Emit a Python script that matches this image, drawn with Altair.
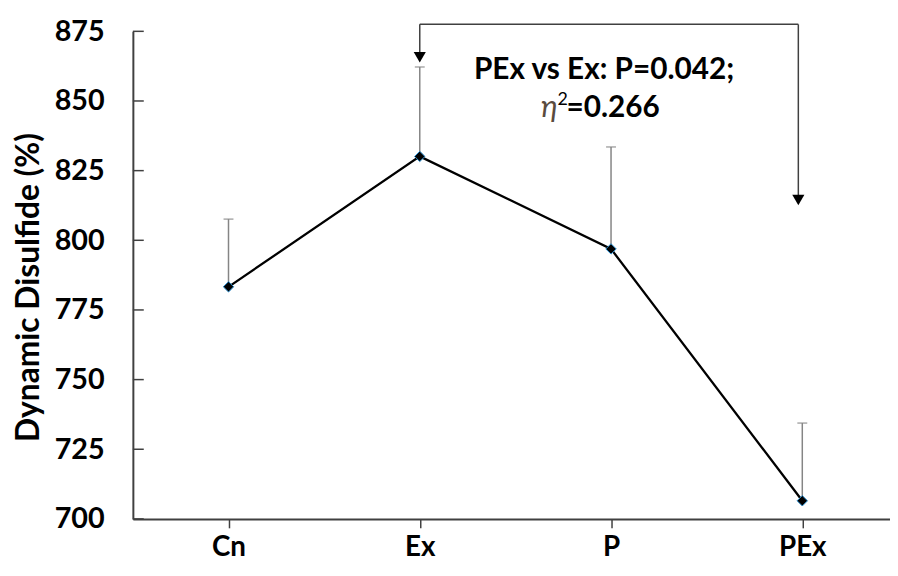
import json
import altair as alt
import pandas as pd

groups = ["Cn", "Ex", "P", "PEx"]
means = [783.3, 830.1, 796.9, 706.5]
err_up = [24.3, 32.1, 36.6, 27.9]
y_ticks = [700, 725, 750, 775, 800, 825, 850, 875]

bracket_y = 877.5
arrow_left_y = 865.7
arrow_right_y = 814.5
line1 = "PEx vs Ex: P=0.042;"
line2_eta = "η"
line2_sup = "2"
line2_rest = "=0.266"

FONT = "Lato"
idx = {g: i for i, g in enumerate(groups)}

df = pd.DataFrame({"group": groups, "i": [idx[g] for g in groups], "mean": means,
                   "top": [m + e for m, e in zip(means, err_up)]})

xscale = alt.Scale(domain=[-0.5, len(groups) - 0.5 - 8 / 193], nice=False, zero=False)
label_expr = json.dumps(groups) + "[datum.value]"


def X(field):
    return alt.X(field, scale=xscale,
                 axis=alt.Axis(title=None, values=list(range(len(groups))), labelExpr=label_expr,
                               labelFont=FONT, labelFontSize=28, labelFontWeight="bold",
                               labelColor="black", labelPadding=6, labelAngle=0, labelFlush=False,
                               labelOverlap=False,
                               domainColor="#404040", domainWidth=2,
                               tickColor="#404040", tickWidth=1.5, tickSize=9, grid=False))


yscale = alt.Scale(domain=[700, 875], nice=False, zero=False)
ys = alt.Y("mean:Q", scale=yscale,
           axis=alt.Axis(title="Dynamic Disulfide (%)", values=y_ticks,
                         titleFont=FONT, titleFontSize=32, titleFontWeight="bold",
                         titleColor="black", titleX=-88, titleY=258,
                         labelFont=FONT, labelFontSize=29, labelFontWeight="bold",
                         labelColor="black", labelPadding=29,
                         domainColor="#404040", domainWidth=2,
                         ticks=True, tickSize=0, grid=False))


def Y(field):
    return alt.Y(field, scale=yscale)


base = alt.Chart(df)

err = base.mark_rule(color="#858585", strokeWidth=1.5).encode(
    x=X("i:Q"), y=ys, y2="top:Q")
caps = base.mark_tick(color="#858585", size=10, thickness=1.5, orient="horizontal").encode(
    x=X("i:Q"), y=Y("top:Q"))
line = base.mark_line(color="black", strokeWidth=2.3).encode(x=X("i:Q"), y=ys)
pts = base.mark_point(shape="diamond", filled=True, fill="black", stroke="#2a8fd0",
                      strokeWidth=1, size=110, opacity=1).encode(x=X("i:Q"), y=ys)

tick_df = pd.DataFrame({"v": y_ticks})
yticks = alt.Chart(tick_df).mark_rule(color="#404040", strokeWidth=1.5).encode(
    y=Y("v:Q"), x=alt.value(0), x2=alt.value(11))

h_df = pd.DataFrame({"a": [idx["Ex"]], "b": [idx["PEx"]], "y": [bracket_y]})
hline = alt.Chart(h_df).mark_rule(color="#404040", strokeWidth=1.5, x2Offset=-4, clip=False).encode(
    x=X("a:Q"), x2="b:Q", y=Y("y:Q"))

vl_df = pd.DataFrame({"g": [idx["Ex"]], "y": [bracket_y], "y2": [arrow_left_y]})
vleft = alt.Chart(vl_df).mark_rule(color="#404040", strokeWidth=1.5, clip=False).encode(
    x=X("g:Q"), y=Y("y:Q"), y2="y2:Q")
vr_df = pd.DataFrame({"g": [idx["PEx"]], "y": [bracket_y], "y2": [arrow_right_y]})
vright = alt.Chart(vr_df).mark_rule(color="#404040", strokeWidth=1.5, xOffset=-4, clip=False).encode(
    x=X("g:Q"), y=Y("y:Q"), y2="y2:Q")

al_df = pd.DataFrame({"g": [idx["Ex"]], "y": [arrow_left_y]})
aleft = alt.Chart(al_df).mark_point(shape="triangle-down", filled=True, color="black",
                                    size=150, opacity=1).encode(x=X("g:Q"), y=Y("y:Q"))
ar_df = pd.DataFrame({"g": [idx["PEx"]], "y": [arrow_right_y]})
aright = alt.Chart(ar_df).mark_point(shape="triangle-down", filled=True, color="black",
                                     size=150, opacity=1, xOffset=-4).encode(x=X("g:Q"), y=Y("y:Q"))

t_df = pd.DataFrame({"g": [idx["P"]], "y1": [857.9], "y2": [844.4],
                     "l1": [line1], "eta": [line2_eta], "sup": [line2_sup], "rest": [line2_rest]})
tbase = alt.Chart(t_df)
txt1 = tbase.mark_text(font=FONT, fontSize=30, fontWeight="bold", color="black",
                       align="center", baseline="alphabetic", dx=-7).encode(
    x=X("g:Q"), y=Y("y1:Q"), text="l1:N")
txt_eta = tbase.mark_text(font=FONT, fontSize=31, fontStyle="italic", color="#5a4b3e",
                          align="right", baseline="alphabetic", dx=-54).encode(
    x=X("g:Q"), y=Y("y2:Q"), text="eta:N")
txt_sup = tbase.mark_text(font=FONT, fontSize=18, color="black",
                          align="left", baseline="alphabetic", dx=-54, dy=-12).encode(
    x=X("g:Q"), y=Y("y2:Q"), text="sup:N")
txt_rest = tbase.mark_text(font=FONT, fontSize=30, fontWeight="bold", color="black",
                           align="left", baseline="alphabetic", dx=-45).encode(
    x=X("g:Q"), y=Y("y2:Q"), text="rest:N")

chart = alt.layer(err, caps, line, pts, yticks, hline, vleft, vright, aleft, aright,
                  txt1, txt_eta, txt_sup, txt_rest).properties(
    width=764, height=492,
    autosize=alt.AutoSizeParams(type="none"),
    padding={"left": 126, "top": 21, "right": 0, "bottom": 47},
    background="white",
).configure_view(stroke=None)

chart.save("out.html", embed_options={"renderer": "svg", "actions": False})
